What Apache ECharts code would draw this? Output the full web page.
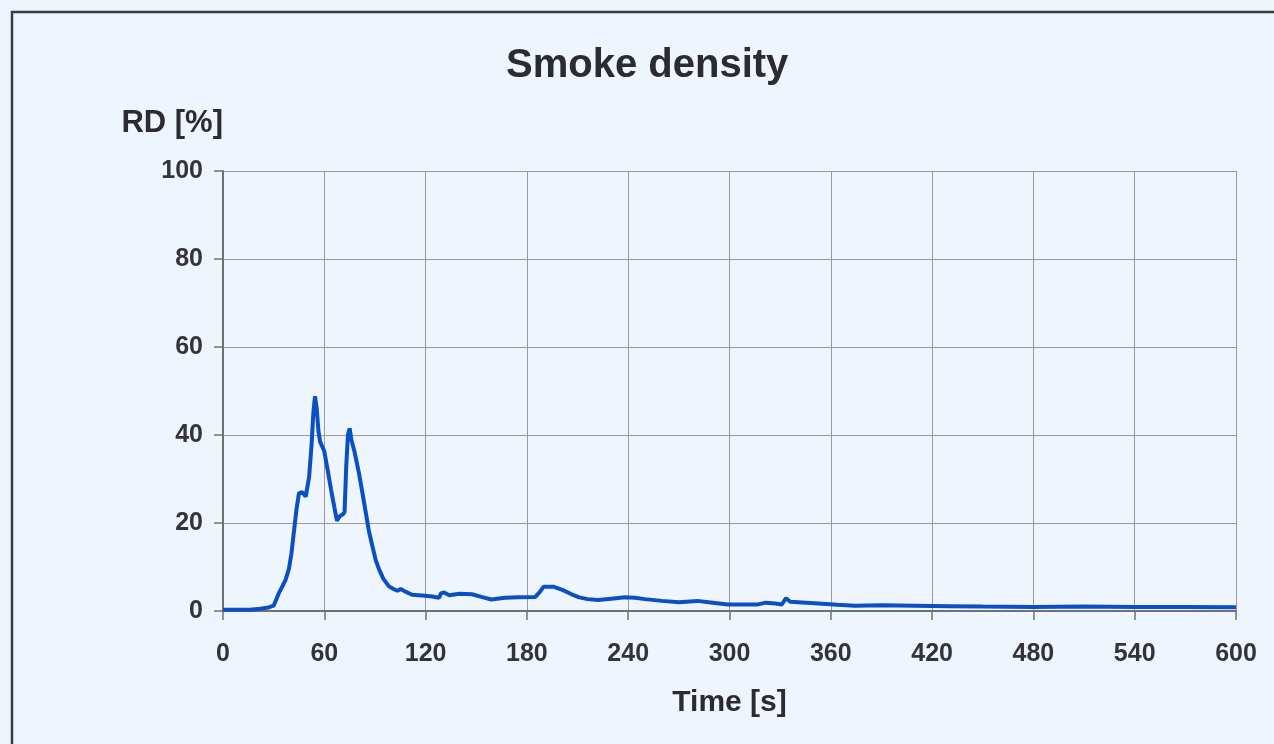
<!DOCTYPE html>
<html>
<head>
<meta charset="utf-8">
<script src="https://cdn.jsdelivr.net/npm/echarts@6/dist/echarts.min.js"></script>
<style>
html,body{margin:0;padding:0;background:#eff5fc;}
#c{width:1274px;height:744px;}
</style>
</head>
<body>
<div id="c"></div>
<script>
const titleText = "Smoke density";
const yAxisName = "RD [%]";
const xAxisName = "Time [s]";
const xTicks = [0, 60, 120, 180, 240, 300, 360, 420, 480, 540, 600];
const yTicks = [0, 20, 40, 60, 80, 100];

const timeSec = [0,10,16,22,27,30,33,35,37,39,40.5,42,43.5,45,47,49,51,52.5,53.5,54.5,55.5,56.5,57.5,60,62,64,66,67.5,69,71,72,73,74,75,76,78,80.5,82.5,84.6,86.5,88.5,90.5,92.5,95,98.3,101,103.3,105.3,108,112,118,124,128,129,131,134,140,147.5,153,159,167,175,185,187.8,189.8,196,201,206.5,211,216,222,230,238,244,250,260,270,281,290,299,308,317,321.5,327,331,333.5,336,348,364,374,390,410,430,450,480,510,540,570,600];
const rdPercent = [0.3,0.3,0.3,0.5,0.8,1.2,4,5.5,7,9.5,13,18,23,26.8,27,26,30.5,38,45,48.8,46,41,38.5,36.3,32,27.6,23.5,20.5,21.5,22,22.5,33,40,41.5,39,36,31.4,27,22.3,18,14.7,11.5,9.4,7.3,5.6,5,4.6,5,4.4,3.7,3.5,3.3,3.0,4.0,4.2,3.6,3.9,3.8,3.2,2.6,3.0,3.1,3.2,4.4,5.5,5.5,4.8,3.8,3.1,2.7,2.5,2.8,3.1,3.0,2.7,2.3,2.0,2.3,1.9,1.5,1.5,1.5,1.9,1.7,1.5,2.9,2.1,1.8,1.4,1.2,1.3,1.2,1.1,1.0,0.9,1.0,0.9,0.9,0.85];

const seriesData = timeSec.map((t, i) => [t, rdPercent[i]]);
const font = '"Liberation Sans", Arial, sans-serif';

const chart = echarts.init(document.getElementById('c'), null, {renderer: 'canvas'});
chart.setOption({
  backgroundColor: '#eff5fc',
  animation: false,
  title: {
    text: titleText,
    left: 501,
    top: 41,
    textStyle: {fontFamily: font, fontSize: 40, fontWeight: 'bold', color: '#2b2b30'}
  },
  graphic: [{
    type: 'rect',
    shape: {x: 12, y: 12, width: 1320, height: 800},
    style: {fill: null, stroke: '#3c3c40', lineWidth: 2.5},
    silent: true
  }],
  grid: {left: 223, right: 38, top: 171, bottom: 133, containLabel: false},
  xAxis: {
    type: 'value',
    min: xTicks[0],
    max: xTicks[xTicks.length - 1],
    interval: 60,
    name: xAxisName,
    nameLocation: 'middle',
    nameGap: 77,
    nameTextStyle: {fontFamily: font, fontSize: 30, fontWeight: 'bold', color: '#2b2b30'},
    axisLine: {show: true, lineStyle: {color: '#707070', width: 2}},
    axisTick: {show: true, inside: false, length: 9, lineStyle: {color: '#707070', width: 1.5}},
    axisLabel: {margin: 31, fontFamily: font, fontSize: 25, fontWeight: 'bold', color: '#333338'},
    splitLine: {show: true, lineStyle: {color: '#9a9a9a', width: 1}}
  },
  yAxis: {
    type: 'value',
    min: yTicks[0],
    max: yTicks[yTicks.length - 1],
    interval: 20,
    name: yAxisName,
    nameLocation: 'end',
    nameGap: 48,
    nameTextStyle: {fontFamily: font, fontSize: 31, fontWeight: 'bold', color: '#2b2b30', align: 'right', verticalAlign: 'middle'},
    axisLine: {show: true, lineStyle: {color: '#707070', width: 2}},
    axisTick: {show: true, inside: false, length: 9, lineStyle: {color: '#707070', width: 1.5}},
    axisLabel: {margin: 20, fontFamily: font, fontSize: 25, fontWeight: 'bold', color: '#333338'},
    splitLine: {show: true, lineStyle: {color: '#9a9a9a', width: 1}}
  },
  series: [{
    type: 'line',
    data: seriesData,
    showSymbol: false,
    smooth: false,
    lineStyle: {color: '#0b4fc4', width: 4},
    itemStyle: {color: '#0b4fc4'}
  }]
});
</script>
</body>
</html>
